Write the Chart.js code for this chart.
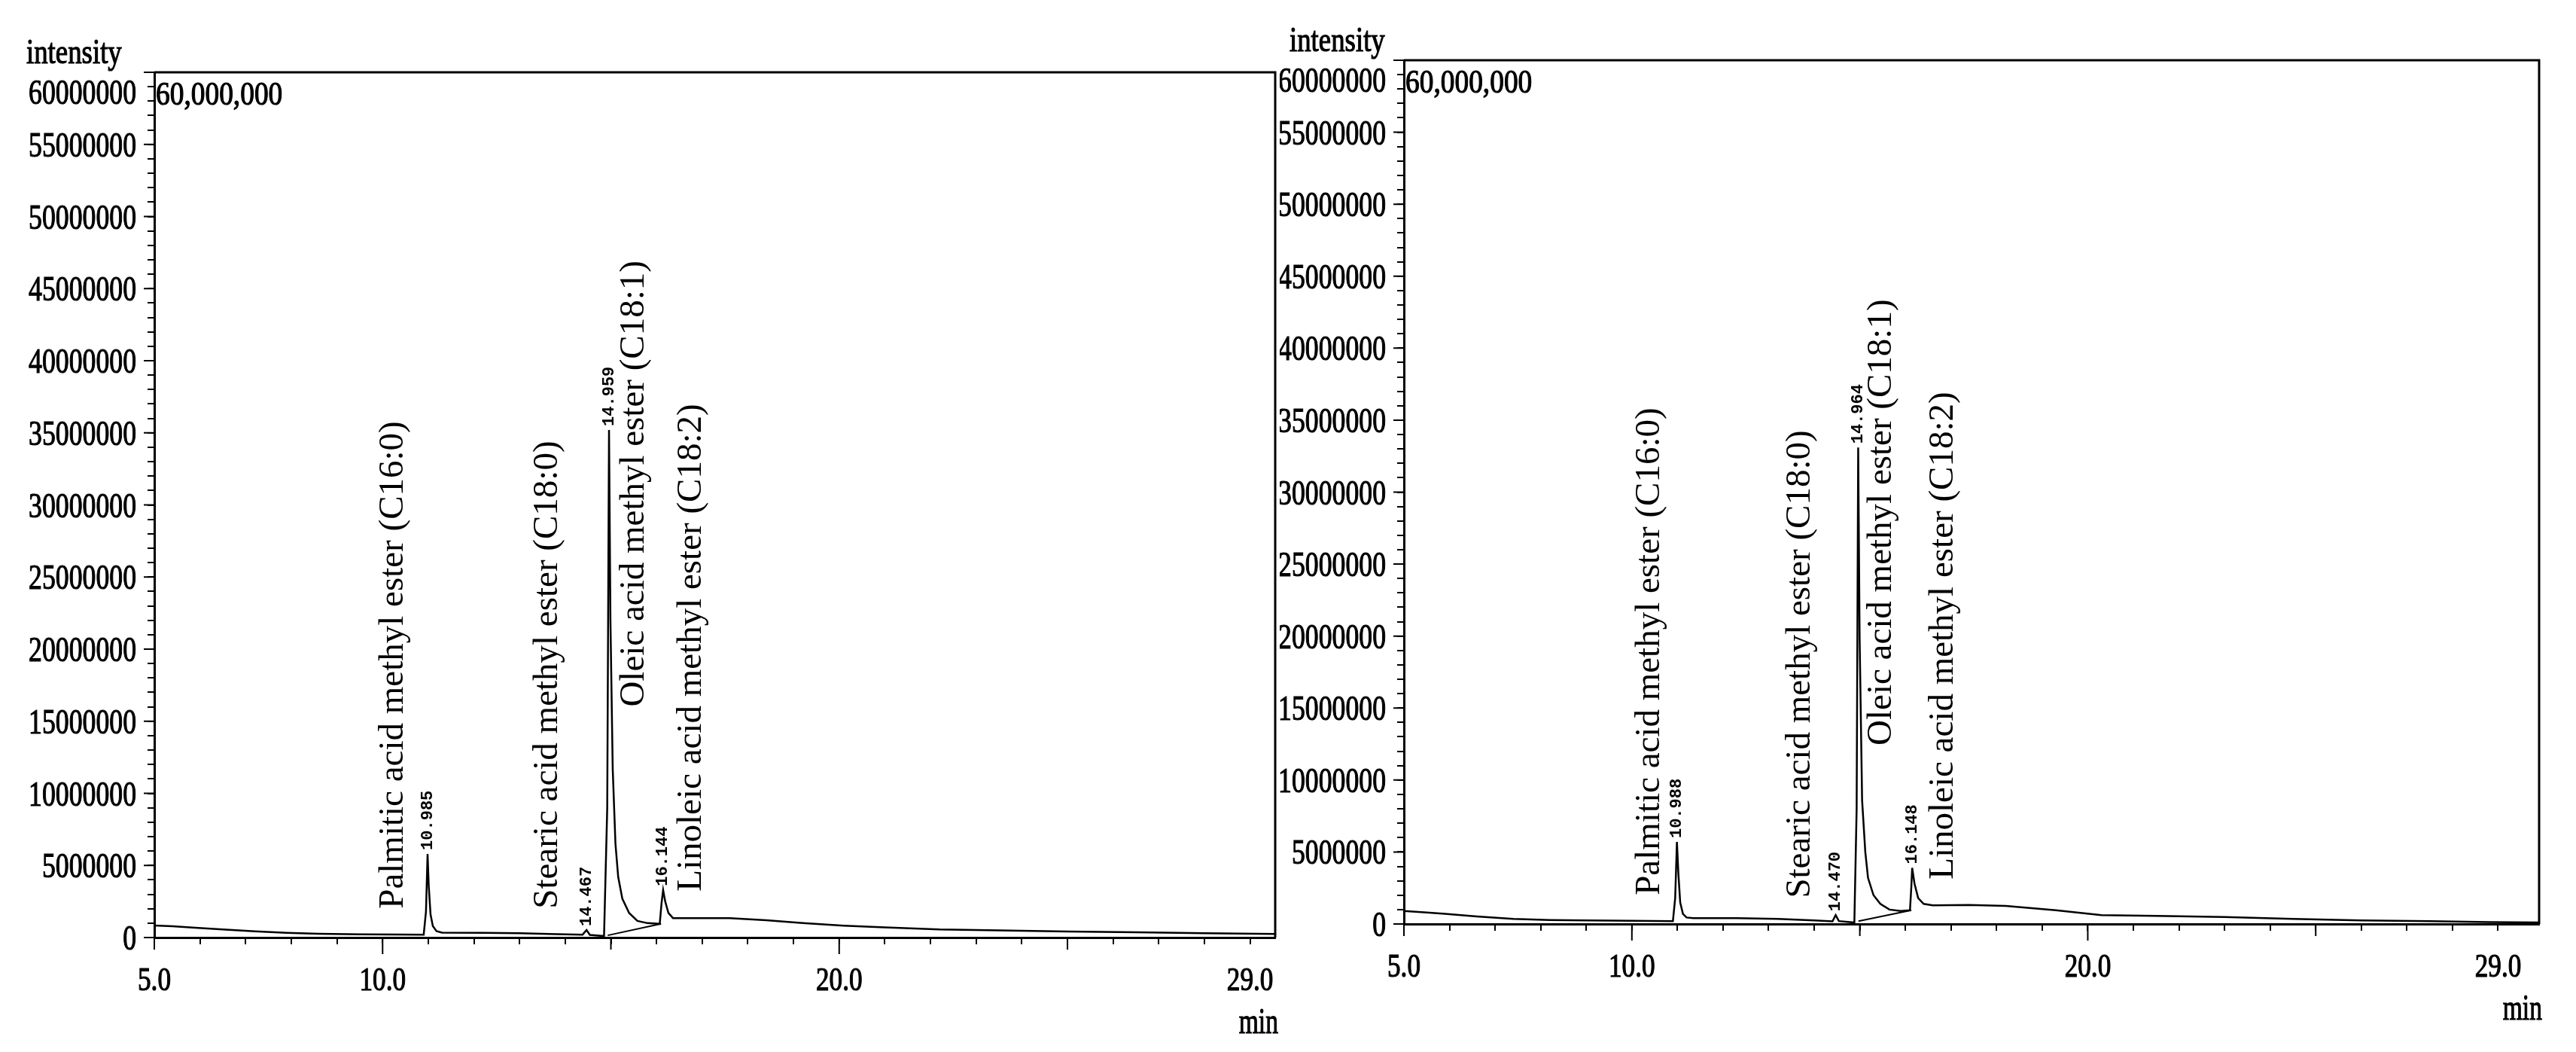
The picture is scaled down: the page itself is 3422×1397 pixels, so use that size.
<!DOCTYPE html>
<html>
<head>
<meta charset="utf-8">
<script src="https://cdn.jsdelivr.net/npm/chart.js@4/dist/chart.umd.min.js"></script>
<style>
  body { margin: 0; background: #fff; }
  canvas { position: absolute; top: 0; }
  #left { left: 0; }
  #right { left: 1700px; }
</style>
</head>
<body>
<canvas id="left" width="1700" height="1397"></canvas>
<canvas id="right" width="1722" height="1397"></canvas>
<script>
// --- data ---
const peakNames = [
  "Palmitic acid methyl ester (C16:0)",
  "Stearic acid methyl ester (C18:0)",
  "Oleic acid methyl ester (C18:1)",
  "Linoleic acid methyl ester (C18:2)"
];

const leftTime = [5.00, 5.40, 5.90, 6.50, 7.20, 7.90, 8.60, 9.50, 10.30, 10.90, 10.95, 10.985, 11.01, 11.05, 11.10, 11.18, 11.30,
  12.20, 13.00, 13.80, 14.38, 14.467, 14.54, 14.85, 14.92, 14.959, 14.99, 15.04, 15.10, 15.16, 15.25, 15.40, 15.58, 15.80,
  16.07, 16.11, 16.144, 16.19, 16.26, 16.36, 16.80, 17.60, 18.40, 19.20, 20.10, 21.00, 22.20, 23.50, 25.00, 26.50, 28.00, 29.55];
const leftSignal = [830000, 780000, 680000, 560000, 430000, 330000, 260000, 220000, 210000, 200000, 1800000, 5800000, 3600000, 1600000, 800000, 450000, 340000,
  330000, 300000, 240000, 200000, 520000, 180000, 100000, 9000000, 35200000, 22000000, 11700000, 6500000, 4200000, 2700000, 1700000, 1150000, 1000000,
  950000, 2400000, 3300000, 2500000, 1700000, 1350000, 1350000, 1350000, 1200000, 1000000, 820000, 700000, 560000, 500000, 420000, 360000, 300000, 250000];
const leftBaseTime = [14.93, 16.10];
const leftBaseSignal = [150000, 950000];
const leftPeakTimes = [10.985, 14.467, 14.959, 16.144];
const leftPeakHeights = [5800000, 520000, 35200000, 3300000];

const rightTime = [5.00, 5.50, 5.90, 6.60, 7.40, 8.20, 9.00, 10.00, 10.90, 10.95, 10.988, 11.02, 11.06, 11.12, 11.20, 11.35,
  12.30, 13.20, 14.00, 14.40, 14.470, 14.54, 14.88, 14.93, 14.964, 14.995, 15.05, 15.12, 15.18, 15.30, 15.45, 15.65, 15.90,
  16.10, 16.13, 16.148, 16.20, 16.28, 16.40, 16.60, 17.40, 18.20, 19.30, 20.30, 21.50, 23.00, 24.50, 26.00, 27.50, 28.80, 29.90];
const rightSignal = [900000, 800000, 700000, 520000, 350000, 280000, 250000, 220000, 200000, 1800000, 5700000, 3500000, 1500000, 700000, 450000, 400000,
  400000, 350000, 250000, 180000, 620000, 200000, 100000, 8000000, 33100000, 20000000, 8600000, 5000000, 3200000, 2000000, 1400000, 1000000, 900000,
  950000, 2600000, 3900000, 2800000, 1800000, 1400000, 1300000, 1320000, 1250000, 950000, 620000, 560000, 480000, 350000, 250000, 200000, 130000, 100000];
const rightBaseTime = [14.97, 16.13];
const rightBaseSignal = [200000, 950000];
const rightPeakTimes = [10.988, 14.470, 14.964, 16.148];
const rightPeakHeights = [5700000, 620000, 33100000, 3900000];

const yTickValues = [0, 5000000, 10000000, 15000000, 20000000, 25000000, 30000000, 35000000, 40000000, 45000000, 50000000, 55000000, 60000000];
const xTickValues = [5, 10, 20, 29];
const xMajorTicks = [5, 10, 15, 20, 25];

// where the compound names sit (x in min, bottom in intensity units)
const leftNamePos = [[10.23, 2000000], [13.62, 2000000], [15.51, 16000000], [16.76, 3200000]];
const rightNamePos = [[10.39, 2000000], [13.69, 1800000], [15.48, 12400000], [16.84, 3100000]];

const SERIF = "'Liberation Serif', 'Times New Roman', serif";

// scanned print uses a narrow, heavy serif: squeeze it and thicken a bit
function squeezed(ctx, text, x, y, size, sx, align) {
  ctx.save();
  ctx.font = size + "px " + SERIF;
  ctx.textAlign = align;
  ctx.textBaseline = "alphabetic";
  ctx.translate(x, y);
  ctx.scale(sx, 1);
  ctx.lineWidth = 1.2;
  ctx.fillText(text, 0, 0);
  ctx.strokeText(text, 0, 0);
  ctx.restore();
}

function upright(ctx, text, x, y, font) {
  ctx.save();
  ctx.font = font;
  ctx.textAlign = "left";
  ctx.textBaseline = "middle";
  ctx.translate(x, y);
  ctx.rotate(-Math.PI / 2);
  ctx.fillText(text, 0, 0);
  ctx.restore();
}

const decor = {
  id: "decor",
  afterDraw(chart, args, o) {
    const ctx = chart.ctx, a = chart.chartArea;
    const xs = chart.scales.x, ys = chart.scales.y;
    ctx.save();
    ctx.fillStyle = "#000";
    ctx.strokeStyle = "#000";

    // frame top + right
    ctx.lineWidth = 3;
    ctx.beginPath();
    ctx.moveTo(a.left, a.top);
    ctx.lineTo(a.right, a.top);
    ctx.lineTo(a.right, a.bottom);
    ctx.stroke();

    // longer major ticks
    ctx.lineWidth = 2;
    ctx.beginPath();
    xMajorTicks.forEach(v => {
      const x = xs.getPixelForValue(v);
      ctx.moveTo(x, a.bottom);
      ctx.lineTo(x, a.bottom + (v === 10 || v === 20 ? 22 : 16));
    });
    yTickValues.forEach(v => {
      const y = ys.getPixelForValue(v);
      ctx.moveTo(a.left, y);
      ctx.lineTo(a.left - 14, y);
    });
    ctx.stroke();

    // y tick labels
    yTickValues.forEach(v => {
      const y = Math.max(ys.getPixelForValue(v), a.top + 26);
      squeezed(ctx, String(v), a.left - 24, y + 16, 47, 0.76, "right");
    });
    // x tick labels
    xTickValues.forEach(v => {
      squeezed(ctx, v.toFixed(1), xs.getPixelForValue(v), a.bottom + 70, 44, 0.8, "center");
    });
    squeezed(ctx, "min", a.right + 4, a.bottom + 127, 48, 0.7, "right");
    squeezed(ctx, "intensity", o.intensityX, a.top - 12, 46, 0.8, "left");
    squeezed(ctx, "60,000,000", a.left + 2, a.top + 43, 44, 0.85, "left");

    // retention times above the peaks
    o.peakTimes.forEach((t, i) => {
      upright(ctx, t.toFixed(3), xs.getPixelForValue(t), ys.getPixelForValue(o.peakHeights[i]) - 5,
        "bold 22px 'Liberation Mono', monospace");
    });
    // compound names
    o.namePos.forEach((p, i) => {
      upright(ctx, peakNames[i], xs.getPixelForValue(p[0]), ys.getPixelForValue(p[1]), "47px " + SERIF);
    });
    ctx.restore();
  }
};

function makeChart(id, time, signal, baseTime, baseSignal, cfg) {
  const axisGrid = { drawOnChartArea: false, drawTicks: true, tickLength: 9, color: "#000", lineWidth: 2 };
  return new Chart(document.getElementById(id), {
    type: "line",
    data: {
      datasets: [
        { data: time.map((t, i) => ({ x: t, y: signal[i] })), borderColor: "#000", borderWidth: 2.5, pointRadius: 0, tension: 0 },
        { data: baseTime.map((t, i) => ({ x: t, y: baseSignal[i] })), borderColor: "#000", borderWidth: 2, pointRadius: 0, tension: 0 }
      ]
    },
    options: {
      responsive: false,
      animation: false,
      devicePixelRatio: 1,
      layout: { padding: { left: 0, top: cfg.top, right: cfg.right, bottom: 0 } },
      plugins: {
        legend: { display: false },
        tooltip: { enabled: false },
        decor: cfg
      },
      scales: {
        x: {
          type: "linear", min: 5, max: cfg.xMax,
          ticks: { display: false, stepSize: 1, includeBounds: false },
          grid: axisGrid,
          border: { color: "#000", width: 3 },
          afterFit: s => { s.height = cfg.xAxisH; }
        },
        y: {
          type: "linear", min: 0, max: 60000000,
          ticks: { display: false, stepSize: 1000000, includeBounds: false },
          grid: axisGrid,
          border: { color: "#000", width: 3 },
          afterFit: s => { s.width = cfg.left; }
        }
      }
    },
    plugins: [decor]
  });
}

makeChart("left", leftTime, leftSignal, leftBaseTime, leftBaseSignal, {
  left: 205, top: 96, right: 6, xAxisH: 152, xMax: 29.55, intensityX: 35,
  peakTimes: leftPeakTimes, peakHeights: leftPeakHeights, namePos: leftNamePos
});
makeChart("right", rightTime, rightSignal, rightBaseTime, rightBaseSignal, {
  left: 165, top: 80, right: 49, xAxisH: 170, xMax: 29.9, intensityX: 13,
  peakTimes: rightPeakTimes, peakHeights: rightPeakHeights, namePos: rightNamePos
});
</script>
</body>
</html>
